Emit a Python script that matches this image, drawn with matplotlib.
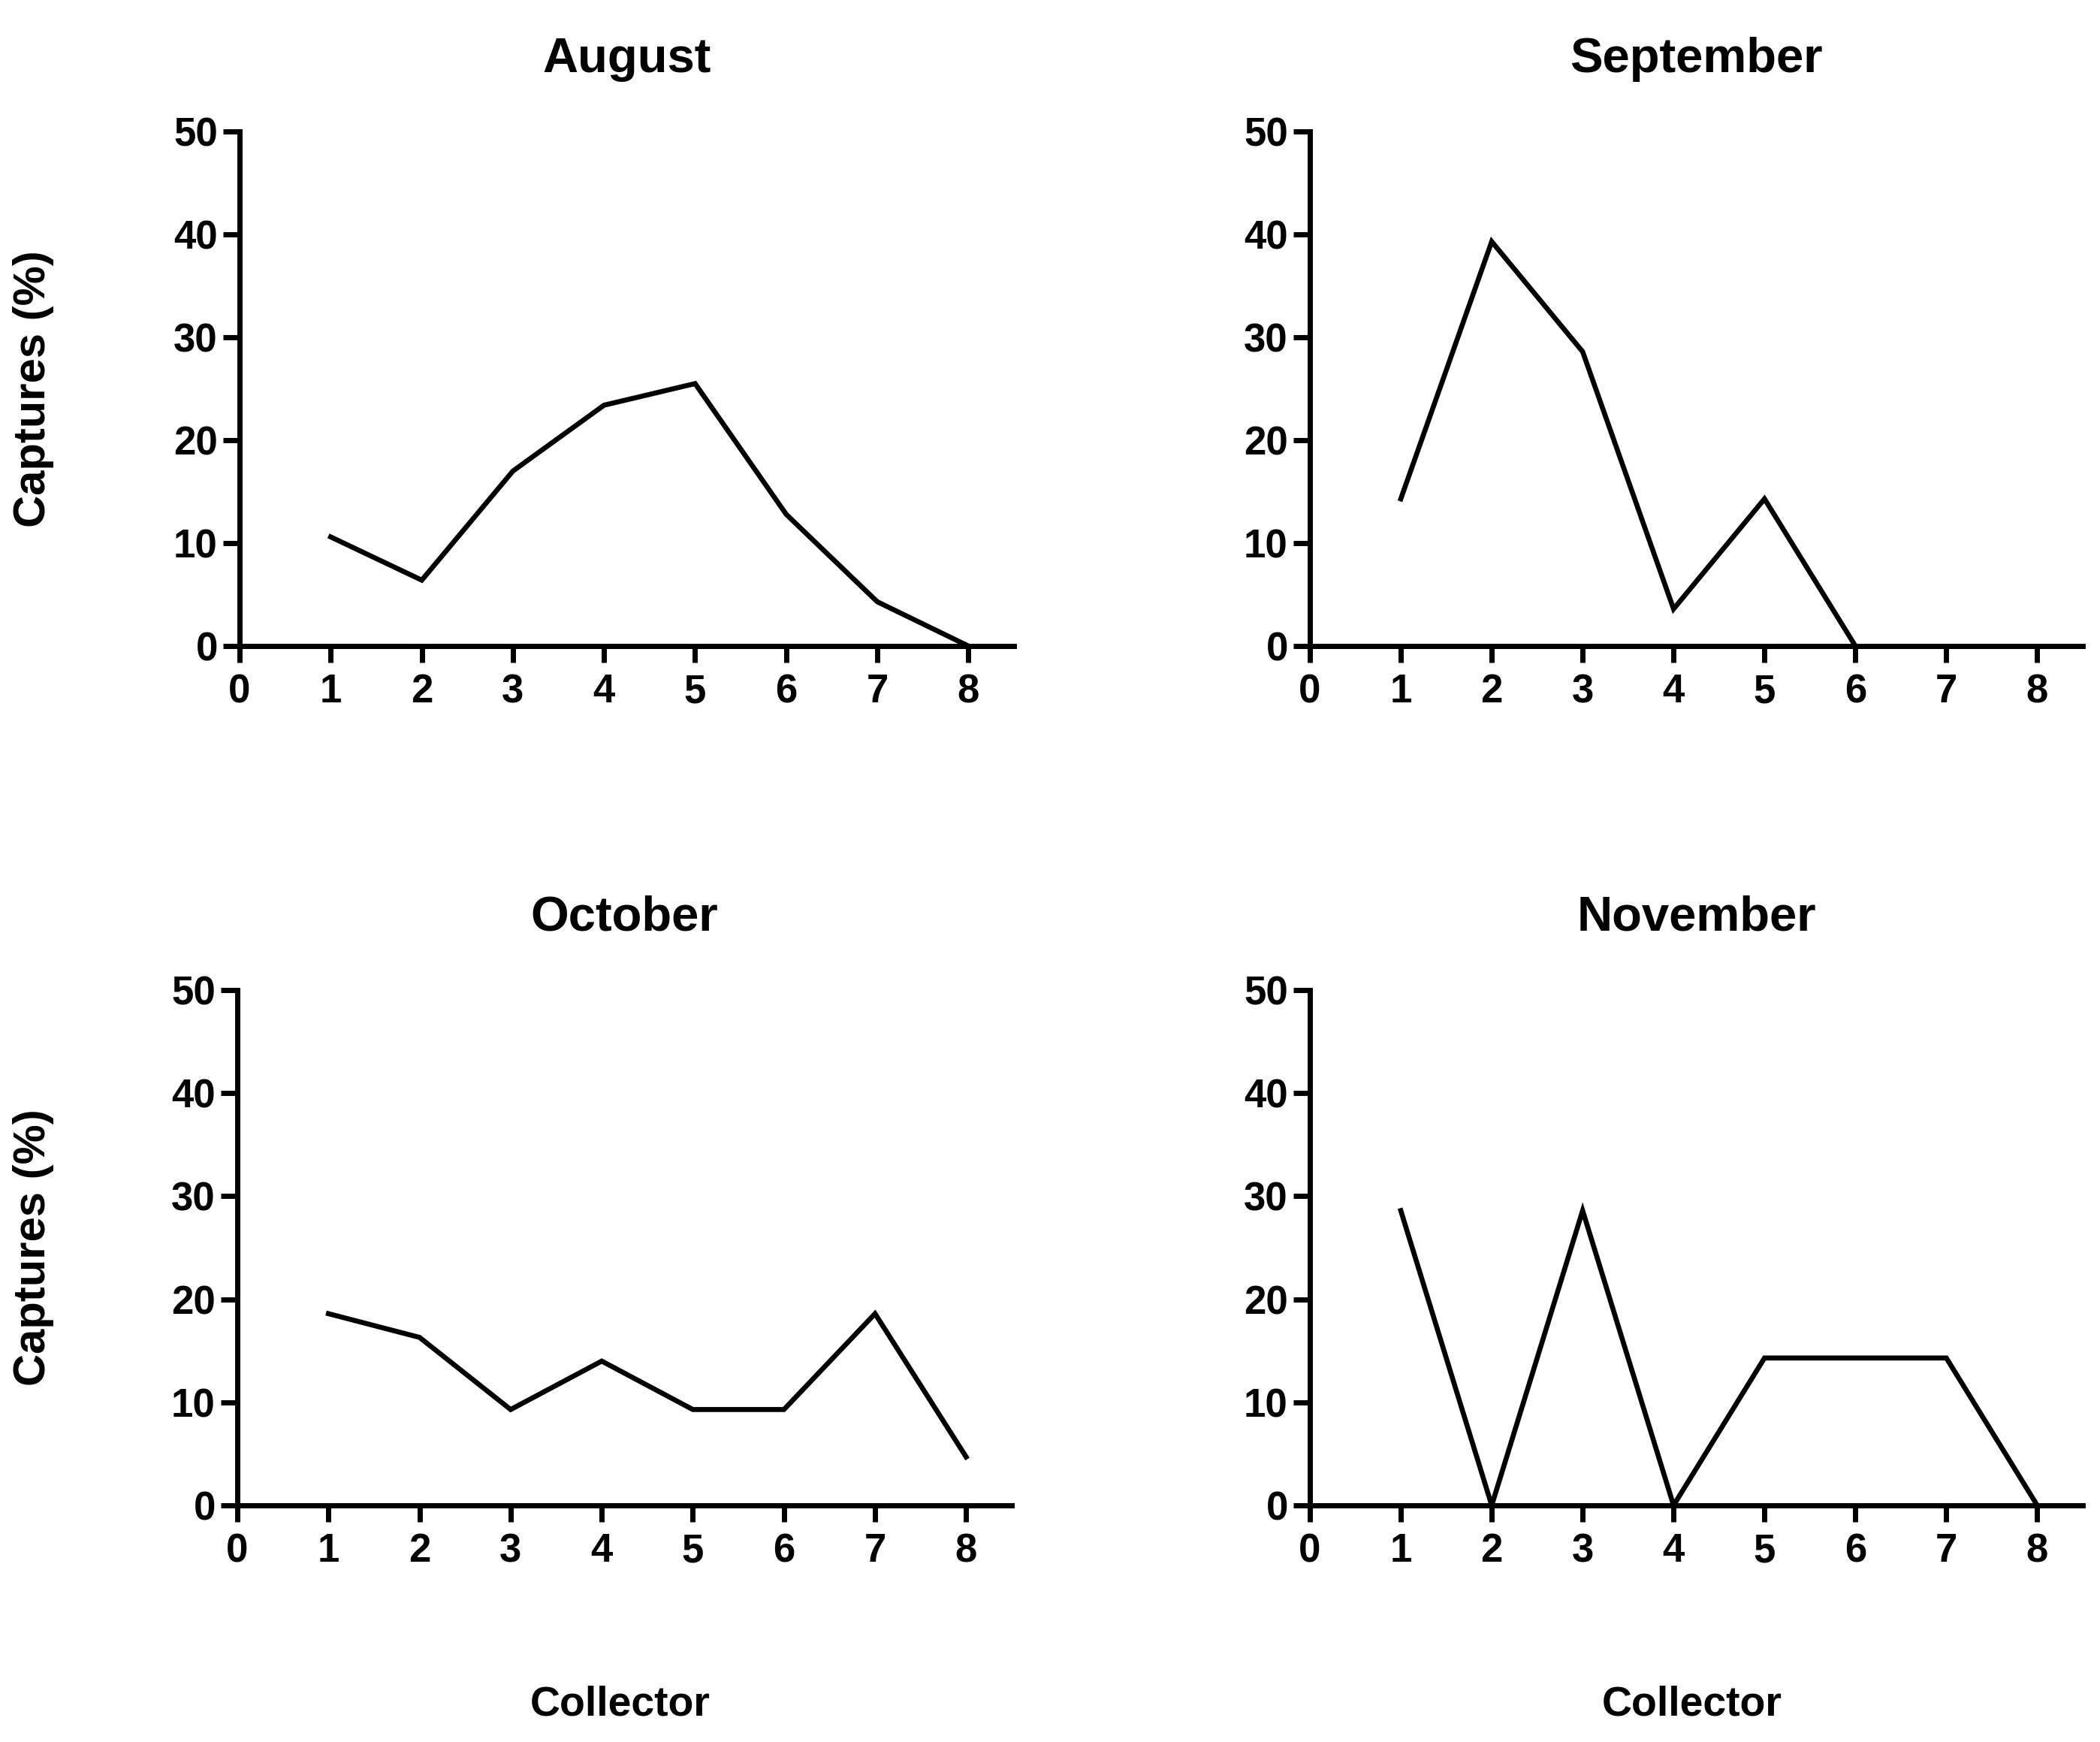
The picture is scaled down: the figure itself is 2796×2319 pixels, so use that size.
import matplotlib
matplotlib.use("Agg")
import matplotlib.pyplot as plt

collectors = [1, 2, 3, 4, 5, 6, 7, 8]
months = ["August", "September", "October", "November"]

august = [10.6, 6.4, 17.0, 23.4, 25.5, 12.8, 4.3, 0.0]
september = [14.3, 39.3, 28.6, 3.6, 14.3, 0.0]
october = [18.6, 16.3, 9.3, 14.0, 9.3, 9.3, 18.6, 4.7]
november = [28.6, 0.0, 28.6, 0.0, 14.3, 14.3, 14.3, 0.0]

series = [august, september, october, november]
x_ticks = [0, 1, 2, 3, 4, 5, 6, 7, 8]
y_ticks = [0, 10, 20, 30, 40, 50]

plt.rcParams['font.family'] = ['Liberation Sans', 'DejaVu Sans']
plt.rcParams['font.weight'] = 'bold'

W, H = 2796, 2319
fig = plt.figure(figsize=(W / 100, H / 100), dpi=100)

# axes boxes in pixels: left, top, right, bottom
boxes = [(319, 175, 1350, 860), (1744, 175, 2773, 860),
         (316, 1318, 1347, 2004), (1744, 1318, 2773, 2004)]

for i, (l, t, r, b) in enumerate(boxes):
    ax = fig.add_axes([l / W, 1 - b / H, (r - l) / W, (b - t) / H])
    vals = series[i]
    ax.plot(collectors[:len(vals)], vals, color='black', lw=4.8,
            solid_joinstyle='miter', clip_on=False, zorder=3)
    ax.set_xlim(0, 8.5)
    ax.set_ylim(0, 50)
    ax.set_xticks(x_ticks)
    ax.set_yticks(y_ticks)
    for s in ['top', 'right']:
        ax.spines[s].set_visible(False)
    for s in ['left', 'bottom']:
        ax.spines[s].set_linewidth(5)
    ax.tick_params(width=5, length=16, labelsize=38)
    ax.tick_params(axis='x', pad=10)
    ax.tick_params(axis='y', pad=5)
    ax.set_title(months[i], fontsize=47, fontweight='bold', pad=57)

    cy = 1 - (t + b) / 2 / H
    cx = (l + r) / 2 / W
    if i % 2 == 0:
        fig.text(45 / W, cy, "Captures (%)", rotation=90, ha='center',
                 va='center', fontsize=43, fontweight='bold')
    if i >= 2:
        fig.text(cx - 6 / W, 1 - 2270 / H, "Collector", ha='center',
                 va='center', fontsize=40, fontweight='bold')

fig.savefig("out.png", dpi=100)
